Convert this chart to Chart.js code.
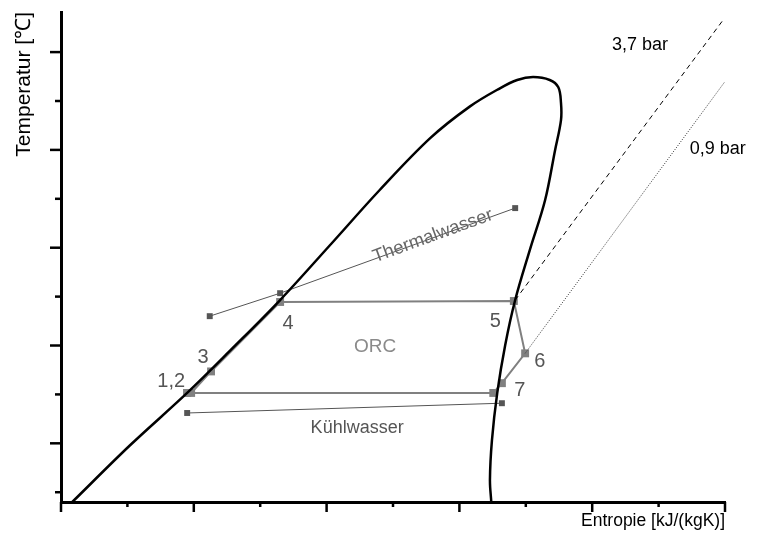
<!DOCTYPE html>
<html>
<head>
<meta charset="utf-8">
<script src="https://cdn.jsdelivr.net/npm/chart.js@4"></script>
<style>
  html, body { margin: 0; padding: 0; background: #fff; }
  #wrap { width: 762px; height: 549px; }
</style>
</head>
<body>
<div id="wrap"><canvas id="tsChart" width="762" height="549"></canvas></div>
<script>
// Saturation dome (s, T) in axis units
const domeS = [0.17, 1.04, 1.90, 2.55, 3.30, 4.05, 4.80, 5.56, 6.16, 6.61, 6.87, 7.11, 7.36, 7.49, 7.53, 7.53, 7.44, 7.29, 7.06, 6.84, 6.69, 6.57, 6.49, 6.46, 6.48];
const domeT = [-0.2, 0.96, 2.03, 2.90, 3.93, 5.05, 6.18, 7.24, 7.89, 8.26, 8.43, 8.49, 8.43, 8.28, 7.96, 7.61, 6.99, 5.97, 4.95, 3.93, 3.01, 2.03, 1.06, 0.25, -0.2];

// ORC cycle: 1, 2, 3, 4, 5, 6, 7, condenser inlet, back to 1
const orcS = [1.90, 1.96, 2.26, 3.30, 6.82, 6.99, 6.64, 6.51, 1.90];
const orcT = [2.03, 2.03, 2.47, 3.89, 3.91, 2.84, 2.23, 2.03, 2.03];

// Thermalwasser and Kühlwasser
const thermalS = [6.84, 3.30, 2.24];
const thermalT = [5.81, 4.07, 3.60];
const coolS = [6.64, 1.90];
const coolT = [1.82, 1.62];

// Isobars
const p37S = [6.84, 9.99];
const p37T = [3.93, 9.69];
const p09S = [6.99, 9.99];
const p09T = [2.84, 8.38];

// Text labels
const labelText = ['1,2', '3', '4', '5', '6', '7', 'ORC', 'Thermalwasser', 'Kühlwasser', '3,7 bar', '0,9 bar'];
const labelS = [1.66, 2.14, 3.42, 6.54, 7.21, 6.91, 4.73, 5.60, 4.46, 8.72, 9.89];
const labelT = [2.27, 2.76, 3.46, 3.50, 2.68, 2.09, 2.97, 5.24, 1.31, 9.14, 7.01];

function pts(xs, ys) {
    return xs.map((x, i) => ({ x: x, y: ys[i] }));
}

const labelStyle = [
    { color: '#555', size: 20, rot: 0 },
    { color: '#555', size: 20, rot: 0 },
    { color: '#555', size: 20, rot: 0 },
    { color: '#555', size: 20, rot: 0 },
    { color: '#555', size: 20, rot: 0 },
    { color: '#555', size: 20, rot: 0 },
    { color: '#8a8a8a', size: 19, rot: 0 },
    { color: '#666', size: 18.5, rot: -20 },
    { color: '#555', size: 18, rot: 0 },
    { color: '#000', size: 18, rot: 0 },
    { color: '#000', size: 18, rot: 0 }
];

const FONT = '"Liberation Sans", Arial, sans-serif';

// Ticks and labels drawn from the scales
const decorPlugin = {
    id: 'decor',
    afterDraw(chart) {
        const ctx = chart.ctx;
        const xs = chart.scales.x;
        const ys = chart.scales.y;
        const area = chart.chartArea;
        ctx.save();
        ctx.strokeStyle = '#000';
        ctx.lineWidth = 2.5;
        for (let v = 0; v <= 10; v++) {
            const px = xs.getPixelForValue(v);
            const len = v % 2 === 0 ? 10 : 5;
            ctx.beginPath();
            ctx.moveTo(px, area.bottom);
            ctx.lineTo(px, area.bottom + len);
            ctx.stroke();
        }
        for (let v = 0; v <= 9; v++) {
            const py = ys.getPixelForValue(v);
            const len = v % 2 === 1 ? 11 : 6;
            ctx.beginPath();
            ctx.moveTo(area.left, py);
            ctx.lineTo(area.left - len, py);
            ctx.stroke();
        }
        ctx.textAlign = 'center';
        ctx.textBaseline = 'middle';
        labelText.forEach((t, i) => {
            const st = labelStyle[i];
            ctx.save();
            ctx.translate(xs.getPixelForValue(labelS[i]), ys.getPixelForValue(labelT[i]));
            ctx.rotate(st.rot * Math.PI / 180);
            ctx.fillStyle = st.color;
            ctx.font = st.size + 'px ' + FONT;
            ctx.fillText(t, 0, 0);
            ctx.restore();
        });
        ctx.restore();
    }
};

document.addEventListener('DOMContentLoaded', () => {
    const ctx = document.getElementById('tsChart').getContext('2d');
    new Chart(ctx, {
        type: 'scatter',
        data: {
            datasets: [
                {
                    label: 'Nassdampfgebiet',
                    data: pts(domeS, domeT),
                    showLine: true,
                    borderColor: '#000',
                    borderWidth: 2.5,
                    tension: 0.35,
                    pointRadius: 0
                },
                {
                    label: '3,7 bar',
                    data: pts(p37S, p37T),
                    showLine: true,
                    borderColor: '#000',
                    borderWidth: 1,
                    borderDash: [5, 4],
                    pointRadius: 0
                },
                {
                    label: '0,9 bar',
                    data: pts(p09S, p09T),
                    showLine: true,
                    borderColor: '#333',
                    borderWidth: 1,
                    borderDash: [1, 1.5],
                    pointRadius: 0
                },
                {
                    label: 'Thermalwasser',
                    data: pts(thermalS, thermalT),
                    showLine: true,
                    borderColor: '#555',
                    borderWidth: 1,
                    pointStyle: 'rect',
                    pointRadius: 4.2,
                    pointBackgroundColor: '#555',
                    pointBorderWidth: 0
                },
                {
                    label: 'Kühlwasser',
                    data: pts(coolS, coolT),
                    showLine: true,
                    borderColor: '#555',
                    borderWidth: 1,
                    pointStyle: 'rect',
                    pointRadius: 4.2,
                    pointBackgroundColor: '#555',
                    pointBorderWidth: 0
                },
                {
                    label: 'ORC',
                    data: pts(orcS, orcT),
                    showLine: true,
                    borderColor: '#808080',
                    borderWidth: 2,
                    pointStyle: 'rect',
                    pointRadius: 5.6,
                    pointBackgroundColor: '#808080',
                    pointBorderWidth: 0
                }
            ]
        },
        options: {
            responsive: false,
            animation: false,
            layout: { padding: { top: 12, right: 37, left: 0, bottom: 0 } },
            plugins: {
                legend: { display: false },
                tooltip: { enabled: false }
            },
            scales: {
                x: {
                    type: 'linear',
                    min: 0,
                    max: 10,
                    grid: { display: false, drawTicks: false },
                    border: { display: true, color: '#000', width: 3 },
                    ticks: { display: false },
                    title: {
                        display: true,
                        text: 'Entropie [kJ/(kgK)]',
                        align: 'end',
                        color: '#000',
                        font: { family: FONT, size: 17.5 },
                        padding: { top: 0, bottom: 17 }
                    },
                    afterFit: (s) => { s.height = 47; }
                },
                y: {
                    type: 'linear',
                    min: -0.2,
                    max: 9.82,
                    grid: { display: false, drawTicks: false },
                    border: { display: true, color: '#000', width: 3 },
                    ticks: { display: false },
                    title: {
                        display: true,
                        text: 'Temperatur [℃]',
                        align: 'end',
                        color: '#000',
                        font: { family: FONT, size: 21 },
                        padding: { top: 12, bottom: 0 }
                    },
                    afterFit: (s) => { s.width = 61; }
                }
            }
        },
        plugins: [decorPlugin]
    });
});
</script>
</body>
</html>
